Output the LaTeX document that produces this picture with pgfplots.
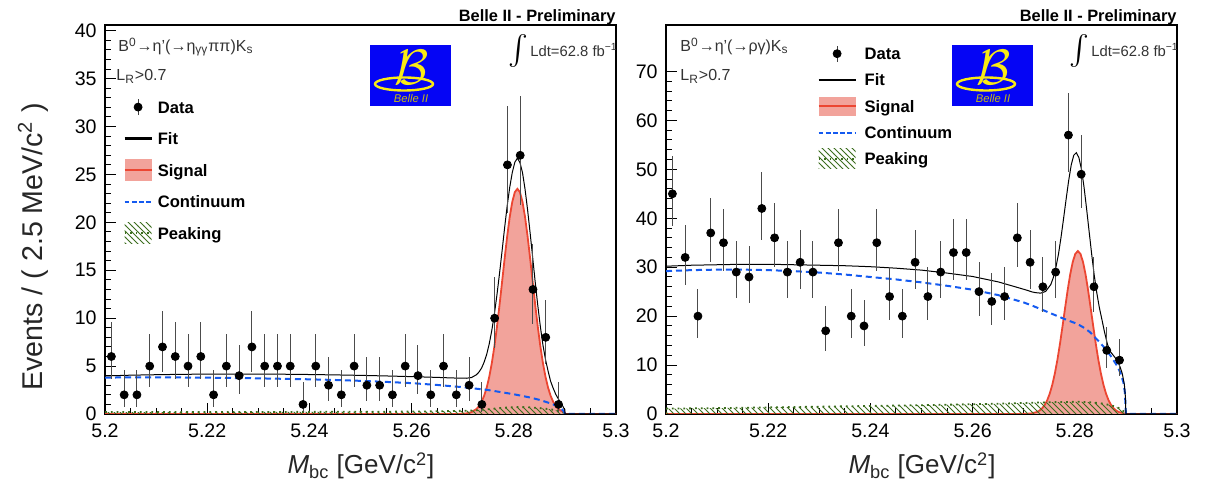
\documentclass[border=0pt]{standalone}
\usepackage{pgfplots}
\pgfplotsset{compat=1.18}
\usepackage{pgfplotstable}
\usepackage{graphicx}
\usepackage{fontspec}
\setmainfont{Liberation Sans}
\usetikzlibrary{patterns}

\definecolor{sigfill}{RGB}{242,163,155}
\definecolor{sigred}{RGB}{236,70,50}
\definecolor{contblue}{RGB}{20,90,240}
\definecolor{pkgreen}{RGB}{60,110,30}
\definecolor{logoblue}{RGB}{5,5,245}
\definecolor{logoyellow}{RGB}{250,235,20}

% ---------------- data: left panel ----------------
\pgfplotstableread{
x y ep em
5.20125 6 3.583 2.379
5.20375 2 2.637 1.292
5.20625 2 2.637 1.292
5.20875 5 3.382 2.159
5.21125 7 3.770 2.580
5.21375 6 3.583 2.379
5.21625 5 3.382 2.159
5.21875 6 3.583 2.379
5.22125 2 2.637 1.292
5.22375 5 3.382 2.159
5.22625 4 3.162 1.914
5.22875 7 3.770 2.580
5.23125 5 3.382 2.159
5.23375 5 3.382 2.159
5.23625 5 3.382 2.159
5.23875 1 2.299 0.827
5.24125 5 3.382 2.159
5.24375 3 2.918 1.633
5.24625 2 2.637 1.292
5.24875 5 3.382 2.159
5.25125 3 2.918 1.633
5.25375 3 2.918 1.633
5.25625 2 2.637 1.292
5.25875 5 3.382 2.159
5.26125 4 3.162 1.914
5.26375 2 2.637 1.292
5.26625 5 3.382 2.159
5.26875 2 2.637 1.292
5.27125 3 2.918 1.633
5.27375 1 2.299 0.827
5.27625 10 4.266 3.108
5.27875 26 6.14 5.07
5.28125 27 6.24 5.17
5.28375 13 4.697 3.558
5.28625 8 3.945 2.768
5.28875 1 2.299 0.827
}\leftdata

\pgfplotstableread{
x y
5.2000 3.97
5.2050 4.05
5.2100 4.10
5.2150 4.14
5.2200 4.16
5.2250 4.17
5.2300 4.17
5.2350 4.15
5.2400 4.12
5.2450 4.08
5.2500 4.03
5.2550 3.97
5.2600 3.90
5.2650 3.82
5.2680 3.76
5.2707 3.73
5.2717 3.80
5.2727 4.10
5.2732 4.39
5.2737 4.80
5.2742 5.42
5.2747 6.23
5.2752 7.34
5.2757 8.74
5.2762 10.43
5.2767 12.43
5.2772 14.64
5.2777 17.00
5.2782 19.42
5.2787 21.70
5.2792 23.65
5.2797 25.20
5.2802 26.27
5.2807 26.70
5.2812 26.25
5.2817 25.20
5.2822 23.46
5.2827 21.30
5.2832 18.86
5.2837 16.30
5.2842 13.71
5.2847 11.30
5.2852 9.10
5.2857 7.20
5.2862 5.70
5.2867 4.50
5.2872 3.42
5.2877 2.70
5.2882 2.07
5.2887 1.59
5.2895 0.90
5.2898 0.60
5.2900 0.45
5.2900 0
5.3000 0
}\leftfit

\pgfplotstableread{
x y
5.2000 0
5.2690 0
5.2707 0.06
5.2717 0.19
5.2727 0.52
5.2732 0.83
5.2737 1.28
5.2742 1.91
5.2747 2.76
5.2752 3.89
5.2757 5.32
5.2762 7.05
5.2767 9.08
5.2772 11.34
5.2777 13.76
5.2782 16.21
5.2787 18.53
5.2792 20.56
5.2797 22.14
5.2802 23.15
5.2807 23.50
5.2812 23.15
5.2817 22.14
5.2822 20.56
5.2827 18.53
5.2832 16.21
5.2837 13.76
5.2842 11.34
5.2847 9.08
5.2852 7.05
5.2857 5.32
5.2862 3.89
5.2867 2.76
5.2872 1.91
5.2877 1.28
5.2882 0.83
5.2887 0.52
5.2897 0.19
5.2900 0.15
5.2900 0
5.3000 0
}\leftsig

\pgfplotstableread{
x y
5.2000 3.80
5.2050 3.82
5.2100 3.82
5.2150 3.81
5.2200 3.79
5.2250 3.76
5.2300 3.72
5.2350 3.67
5.2400 3.62
5.2450 3.55
5.2500 3.46
5.2550 3.35
5.2600 3.22
5.2650 3.03
5.2700 2.80
5.2750 2.50
5.2800 2.06
5.2830 1.74
5.2850 1.48
5.2870 1.14
5.2880 0.93
5.2890 0.65
5.2895 0.45
5.2898 0.28
5.2900 0
5.3000 0
}\leftcont

\pgfplotstableread{
x y
5.2000 0.20
5.2200 0.21
5.2400 0.22
5.2600 0.25
5.2650 0.28
5.2700 0.33
5.2730 0.40
5.2760 0.55
5.2780 0.65
5.2807 0.73
5.2830 0.70
5.2850 0.62
5.2870 0.50
5.2880 0.42
5.2890 0.30
5.2895 0.20
5.2898 0.12
5.2900 0
}\leftpk

% ---------------- data: right panel ----------------
\pgfplotstableread{
x y ep em
5.20125 45 7.76 6.67
5.20375 32 6.71 5.62
5.20625 20 5.52 4.43
5.20875 37 7.13 6.04
5.21125 35 6.97 5.88
5.21375 29 6.44 5.35
5.21625 28 6.34 5.25
5.21875 42 7.53 6.44
5.22125 36 7.05 5.96
5.22375 29 6.44 5.35
5.22625 31 6.62 5.53
5.22875 29 6.44 5.35
5.23125 17 5.17 4.08
5.23375 35 6.97 5.88
5.23625 20 5.52 4.43
5.23875 18 5.29 4.20
5.24125 35 6.97 5.88
5.24375 24 5.95 4.86
5.24625 20 5.52 4.43
5.24875 31 6.62 5.53
5.25125 24 5.95 4.86
5.25375 29 6.44 5.35
5.25625 33 6.79 5.70
5.25875 33 6.79 5.70
5.26125 25 6.05 4.96
5.26375 23 5.85 4.76
5.26625 24 5.95 4.86
5.26875 36 7.05 5.96
5.27125 31 6.62 5.53
5.27375 26 6.15 5.06
5.27625 29 6.44 5.35
5.27875 57 8.60 7.51
5.28125 49 8.05 6.96
5.28375 26 6.15 5.06
5.28625 13 4.70 3.56
5.28875 11 4.42 3.27
}\rightdata

\pgfplotstableread{
x y
5.2000 30.2
5.2050 30.4
5.2100 30.5
5.2150 30.6
5.2200 30.6
5.2250 30.5
5.2300 30.4
5.2350 30.3
5.2400 30.1
5.2450 29.8
5.2500 29.4
5.2550 28.8
5.2600 28.1
5.2650 27.0
5.2680 26.1
5.2706 25.3
5.2716 24.95
5.2723 24.8
5.2733 24.7
5.2743 25.05
5.2753 26.45
5.2758 27.9
5.2763 30.0
5.2768 32.63
5.2773 36.1
5.2778 39.93
5.2783 43.9
5.2788 47.71
5.2793 50.91
5.2798 52.89
5.2803 53.4
5.2808 52.39
5.2813 50.02
5.2818 46.41
5.2823 41.99
5.2828 37.31
5.2833 32.67
5.2838 28.36
5.2843 24.77
5.2848 21.75
5.2853 19.33
5.2858 16.8
5.2864 14.2
5.2870 12.7
5.2879 11.5
5.2885 10.5
5.2889 9.5
5.2893 8.2
5.2897 6.0
5.2899 3.5
5.2900 0
5.3000 0
}\rightfit

\pgfplotstableread{
x y
5.2000 0
5.2690 0
5.2706 0.04
5.2716 0.13
5.2726 0.41
5.2731 0.70
5.2736 1.16
5.2741 1.83
5.2746 2.82
5.2751 4.18
5.2756 5.99
5.2761 8.31
5.2766 11.11
5.2771 14.37
5.2776 17.96
5.2781 21.69
5.2786 25.31
5.2791 28.54
5.2796 31.09
5.2801 32.73
5.2806 33.30
5.2811 32.73
5.2816 31.09
5.2821 28.54
5.2826 25.31
5.2831 21.69
5.2836 17.96
5.2841 14.37
5.2846 11.11
5.2851 8.31
5.2856 5.99
5.2861 4.18
5.2866 2.82
5.2871 1.83
5.2876 1.16
5.2881 0.70
5.2886 0.41
5.2896 0.13
5.2900 0.08
5.2900 0
5.3000 0
}\rightsig

\pgfplotstableread{
x y
5.2000 29.2
5.2050 29.4
5.2100 29.5
5.2150 29.5
5.2200 29.4
5.2250 29.2
5.2300 28.9
5.2350 28.5
5.2400 28.0
5.2450 27.5
5.2500 26.9
5.2550 26.2
5.2600 25.4
5.2650 24.3
5.2700 22.8
5.2720 22.0
5.2750 20.7
5.2780 19.4
5.2800 18.6
5.2810 18.1
5.2820 17.5
5.2830 16.7
5.2840 15.6
5.2850 14.5
5.2860 13.3
5.2870 11.9
5.2880 10.3
5.2885 9.4
5.2890 8.2
5.2895 6.5
5.2898 4.4
5.2900 0
5.3000 0
}\rightcont

\pgfplotstableread{
x y
5.2000 1.10
5.2100 1.20
5.2200 1.35
5.2300 1.50
5.2400 1.65
5.2500 1.80
5.2600 2.00
5.2650 2.10
5.2700 2.25
5.2750 2.40
5.2806 2.50
5.2830 2.40
5.2850 2.20
5.2870 1.80
5.2880 1.50
5.2890 1.00
5.2895 0.60
5.2898 0.30
5.2900 0
}\rightpk

\pgfplotsset{
  belle/.style={
    scale only axis, width=255.5pt, height=194.5pt, anchor=south west,
    xmin=5.2, xmax=5.3, ymin=0,
    xtick={5.2,5.22,5.24,5.26,5.28,5.3},
    xticklabels={5.2,5.22,5.24,5.26,5.28,5.3},
    minor x tick num=3, minor y tick num=4,
    xtick pos=left, ytick pos=left, tick align=inside,
    major tick length=5.5pt, minor tick length=3pt,
    tick style={black, line width=0.5pt},
    axis line style={line width=1pt},
    tick label style={font=\fontsize{9.8}{11}\selectfont},
    xticklabel style={inner sep=0pt, yshift=-4.5pt},
    yticklabel style={inner sep=0pt, xshift=-4pt},
    /pgf/number format/assume math mode=true,
    legend cell align=left,
  },
  datastyle/.style={only marks, mark=*, mark size=2pt, black, forget plot,
    error bars/.cd, y dir=both, y explicit, error mark=none,
    error bar style={line width=0.5pt, black!70}},
}

\begin{document}
\begin{tikzpicture}
\useasboundingbox (0pt,0pt) rectangle (604.5pt,245pt);

% ================= LEFT PANEL =================
\begin{axis}[belle, at={(52.5pt,38pt)}, ymax=40.6, ytick={0,5,...,40},
  legend style={draw=none, fill=none, at={(0.0352,0.8208)}, anchor=north west,
    inner sep=0pt, row sep=3.75pt, column sep=2.5pt,
    font=\bfseries\fontsize{8.3}{10}\selectfont,
    nodes={inner sep=0pt, text height=9pt, text depth=3pt}}]
\addplot[fill=sigfill, draw=sigred, line width=0.9pt, forget plot] table[x=x,y=y] {\leftsig};
\addplot[draw=none, pattern=north west lines, pattern color=pkgreen, forget plot] table[x=x,y=y] {\leftpk} \closedcycle;
\addplot[pkgreen, dotted, line width=0.9pt, forget plot] table[x=x,y=y] {\leftpk};
\addplot[contblue, dash pattern=on 3pt off 2pt, line width=1pt, forget plot] table[x=x,y=y] {\leftcont};
\addplot[black, line width=0.5pt, forget plot] table[x=x,y=y] {\leftfit};
\addplot[datastyle] table[x=x, y=y, y error plus=ep, y error minus=em] {\leftdata};

\addlegendimage{legend image code/.code={
  \path[draw=none, fill=none] (0pt,-6pt) rectangle (13.5pt,6pt);
  \draw[black!75, line width=0.5pt] (6.75pt,-4pt) -- (6.75pt,4pt);
  \fill[black] (6.75pt,0pt) circle[radius=2pt];}}
\addlegendentry{Data}
\addlegendimage{legend image code/.code={
  \path[draw=none, fill=none] (0pt,-6pt) rectangle (13.5pt,6pt);
  \draw[black, line width=1.2pt] (0pt,0pt) -- (13.5pt,0pt);}}
\addlegendentry{Fit}
\addlegendimage{legend image code/.code={
  \path[draw=none, fill=none] (0pt,-6pt) rectangle (13.5pt,6pt);
  \fill[sigfill, draw=none] (0pt,-5.5pt) rectangle (13.5pt,5.5pt);
  \draw[sigred, line width=1.2pt] (0pt,0pt) -- (13.5pt,0pt);}}
\addlegendentry{Signal}
\addlegendimage{legend image code/.code={
  \path[draw=none, fill=none] (0pt,-6pt) rectangle (13.5pt,6pt);
  \draw[draw=contblue, solid, dash pattern=on 2.4pt off 1.2pt, line width=1pt] (0pt,0pt) -- (13.5pt,0pt);}}
\addlegendentry{Continuum}
\addlegendimage{legend image code/.code={
  \path[draw=none, fill=none] (0pt,-6pt) rectangle (13.5pt,6pt);
  \fill[draw=none, pattern=north west lines, pattern color=pkgreen] (0pt,-5.4pt) rectangle (13.5pt,5.4pt);
  \draw[pkgreen, dotted, line width=0.8pt] (0pt,0pt) -- (13.5pt,0pt);}}
\addlegendentry{Peaking}
\end{axis}

% ================= RIGHT PANEL =================
\begin{axis}[belle, at={(333pt,38pt)}, ymax=79.5, ytick={0,10,...,70},
  legend style={draw=none, fill=none, at={(0.2955,0.9581)}, anchor=north west,
    inner sep=0pt, row sep=1.15pt, column sep=3.9pt,
    font=\bfseries\fontsize{8.3}{10}\selectfont,
    nodes={inner sep=0pt, text height=9pt, text depth=3pt}}]
\addplot[fill=sigfill, draw=sigred, line width=0.9pt, forget plot] table[x=x,y=y] {\rightsig};
\addplot[draw=none, pattern=north west lines, pattern color=pkgreen, forget plot] table[x=x,y=y] {\rightpk} \closedcycle;
\addplot[pkgreen, dotted, line width=0.9pt, forget plot] table[x=x,y=y] {\rightpk};
\addplot[contblue, dash pattern=on 3pt off 2pt, line width=1pt, forget plot] table[x=x,y=y] {\rightcont};
\addplot[black, line width=0.5pt, forget plot] table[x=x,y=y] {\rightfit};
\addplot[datastyle] table[x=x, y=y, y error plus=ep, y error minus=em] {\rightdata};

\addlegendimage{legend image code/.code={
  \path[draw=none, fill=none] (0pt,-6pt) rectangle (18.5pt,6pt);
  \draw[black!75, line width=0.5pt] (9.25pt,-4pt) -- (9.25pt,4pt);
  \fill[black] (9.25pt,0pt) circle[radius=2pt];}}
\addlegendentry{Data}
\addlegendimage{legend image code/.code={
  \path[draw=none, fill=none] (0pt,-6pt) rectangle (18.5pt,6pt);
  \draw[black, line width=1.2pt] (0pt,0pt) -- (18.5pt,0pt);}}
\addlegendentry{Fit}
\addlegendimage{legend image code/.code={
  \path[draw=none, fill=none] (0pt,-6pt) rectangle (18.5pt,6pt);
  \fill[sigfill, draw=none] (0pt,-4.8pt) rectangle (18.5pt,4.8pt);
  \draw[sigred, line width=1.2pt] (0pt,0pt) -- (18.5pt,0pt);}}
\addlegendentry{Signal}
\addlegendimage{legend image code/.code={
  \path[draw=none, fill=none] (0pt,-6pt) rectangle (18.5pt,6pt);
  \draw[draw=contblue, solid, dash pattern=on 2.4pt off 1.2pt, line width=1pt] (0pt,0pt) -- (18.5pt,0pt);}}
\addlegendentry{Continuum}
\addlegendimage{legend image code/.code={
  \path[draw=none, fill=none] (0pt,-6pt) rectangle (18.5pt,6pt);
  \fill[draw=none, pattern=north west lines, pattern color=pkgreen] (0pt,-5pt) rectangle (18.5pt,5pt);
  \draw[pkgreen, dotted, line width=0.8pt] (0pt,0pt) -- (18.5pt,0pt);}}
\addlegendentry{Peaking}
\end{axis}

% ================= annotations (pixel coordinates) =================
\begin{scope}[x=0.5pt, y=-0.5pt, shift={(0pt,245pt)}]
  % y label
  \node[rotate=90, inner sep=0pt, text=black!85, font=\fontsize{14.3}{16}\selectfont] at (33,247)
    {Events / ( 2.5 MeV/c\textsuperscript{2} )};
  % x labels
  \node[anchor=base, inner sep=0pt, text=black!85, font=\fontsize{13}{15}\selectfont] at (361,474)
    {\textit{M}\textsubscript{bc} [GeV/c\textsuperscript{2}]};
  \node[anchor=base, inner sep=0pt, text=black!85, font=\fontsize{13}{15}\selectfont] at (922,474)
    {\textit{M}\textsubscript{bc} [GeV/c\textsuperscript{2}]};
  % headers
  \node[anchor=base east, inner sep=0pt, font=\bfseries\fontsize{8.2}{10}\selectfont] at (616,21.5)
    {Belle II - Preliminary};
  \node[anchor=base east, inner sep=0pt, font=\bfseries\fontsize{8.2}{10}\selectfont] at (1177,21.5)
    {Belle II - Preliminary};
  % channel labels
  \node[anchor=base west, inner sep=0pt, text=black!80, font=\fontsize{8}{10}\selectfont] at (118,52)
    {B\textsuperscript{0}→η'(→η\textsubscript{γγ}ππ)K\textsubscript{s}};
  \node[anchor=base west, inner sep=0pt, text=black!80, font=\fontsize{8}{10}\selectfont] at (116,81)
    {L\textsubscript{R}>0.7};
  \node[anchor=base west, inner sep=0pt, text=black!80, font=\fontsize{8}{10}\selectfont] at (680,52)
    {B\textsuperscript{0}→η'(→ργ)K\textsubscript{s}};
  \node[anchor=base west, inner sep=0pt, text=black!80, font=\fontsize{8}{10}\selectfont] at (680,81)
    {L\textsubscript{R}>0.7};
  % luminosity
  \node[inner sep=0pt] at (518,51) {\resizebox*{!}{16.5pt}{$\int$}};
  \node[anchor=base west, inner sep=0pt, text=black!80, font=\fontsize{7.4}{9}\selectfont] at (530,57)
    {Ldt=62.8 fb\textsuperscript{−1}};
  \node[inner sep=0pt] at (1079,51) {\resizebox*{!}{16.5pt}{$\int$}};
  \node[anchor=base west, inner sep=0pt, text=black!80, font=\fontsize{7.4}{9}\selectfont] at (1091,57)
    {Ldt=62.8 fb\textsuperscript{−1}};
  % logo, left
  \fill[logoblue] (370,45) rectangle (451,106);
  \draw[logoyellow, line width=1.2pt] (404,84) ellipse (29 and 6.5);
  \node[text=logoyellow, inner sep=0pt, font=\fontsize{28}{28}\selectfont] at (412,68) {$\mathcal{B}$};
  \node[text=logoyellow!80!black, inner sep=0pt, font=\itshape\fontsize{5.6}{6}\selectfont] at (411,99) {Belle II};
  % logo, right
  \fill[logoblue] (952,45) rectangle (1033,106);
  \draw[logoyellow, line width=1.2pt] (986,84) ellipse (29 and 6.5);
  \node[text=logoyellow, inner sep=0pt, font=\fontsize{28}{28}\selectfont] at (994,68) {$\mathcal{B}$};
  \node[text=logoyellow!80!black, inner sep=0pt, font=\itshape\fontsize{5.6}{6}\selectfont] at (993,99) {Belle II};
\end{scope}
\end{tikzpicture}
\end{document}
